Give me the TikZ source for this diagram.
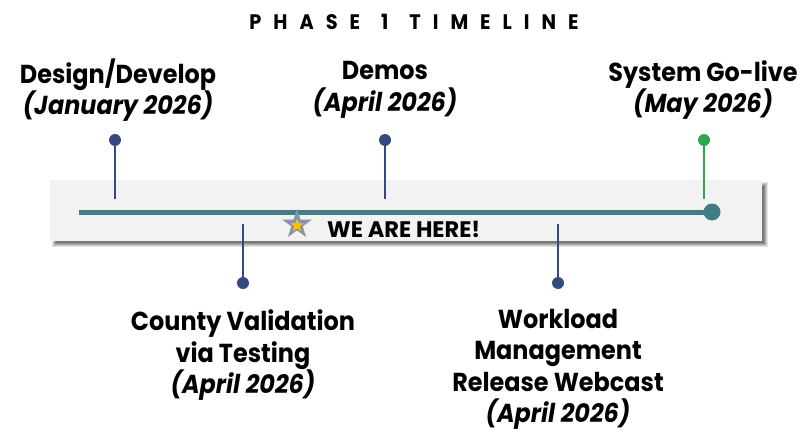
\documentclass[tikz,border=0pt]{standalone}
\usepackage{fontspec}
\setmainfont{Poppins}
\newfontfamily\lblfont[FakeStretch=0.92]{Poppins}
\usetikzlibrary{shapes.geometric}
\definecolor{navy}{HTML}{34497F}
\definecolor{teal}{HTML}{437C84}
\definecolor{golive}{HTML}{2EA84C}
\definecolor{band}{HTML}{F2F2F2}
\definecolor{stargray}{HTML}{8494B0}
\definecolor{staryel}{HTML}{FFC000}
\newcommand\lsp{\hspace{12pt}}
\newcommand\wsp{\hspace{21pt}}
\begin{document}
\begin{tikzpicture}[x=1pt,y=-1pt,
  lbl/.style={font=\lblfont\bfseries\fontsize{26}{31.5}\selectfont, align=center, inner sep=0pt, text=black},
  dotn/.style={circle, fill=navy, inner sep=0pt, minimum size=12pt},
  stem/.style={draw=navy, line width=1.3pt}]
\useasboundingbox (0,0) rectangle (804,431);
% title
\node[inner sep=0pt, font=\lblfont\bfseries\fontsize{21}{24}\selectfont] (title) at (414,22) {P\lsp H\lsp A\lsp S\lsp E\wsp 1\wsp T\lsp I\lsp M\lsp E\lsp L\lsp I\lsp N\lsp E};
% band with soft shadow
\foreach \i/\o in {0/0.10,1/0.12,2/0.14,3/0.16,4/0.18}{
  \fill[black, opacity=\o] (52+\i,182+\i) rectangle (768-\i,247-\i);
}
\fill[band] (50,180) rectangle (762,241);
% stems above
\node[dotn] (d1) at (115,140) {};
\coordinate (d1b) at (115,199);
\draw[stem] (d1) -- (d1b);
\node[dotn] (d2) at (385,140) {};
\coordinate (d2b) at (385,199);
\draw[stem] (d2) -- (d2b);
\node[circle, fill=golive, inner sep=0pt, minimum size=12pt] (d3) at (704,140) {};
\coordinate (d3b) at (704,199);
\draw[draw=golive, line width=1.3pt] (d3) -- (d3b);
% stems below
\node[dotn] (d4) at (243,283) {};
\coordinate (d4t) at (243,224);
\draw[stem] (d4t) -- (d4);
\node[dotn] (d5) at (558,283) {};
\coordinate (d5t) at (558,224);
\draw[stem] (d5t) -- (d5);
% timeline
\node[circle, fill=teal, inner sep=0pt, minimum size=17pt] (endc) at (712,212) {};
\coordinate (start) at (79,212);
\draw[teal, line width=5pt] (start) -- (endc.center);
% star
\node[star, star points=5, star point ratio=2.6, fill=stargray, inner sep=0pt, minimum size=31pt] (star) at (297,224.5) {};
\node[star, star points=5, star point ratio=2.4, fill=staryel, inner sep=0pt, minimum size=14pt] (stari) at (297,225.5) {};
\node[anchor=west, inner sep=0pt, font=\bfseries\fontsize{22.5}{24}\selectfont] (here) at (327,229.5) {WE ARE HERE!};
% labels
\node[lbl] (l1) at (118,90) {Design/Develop\\\itshape (January 2026)};
\node[lbl] (l2) at (385,90) {Demos\\\itshape (April 2026)};
\node[lbl] (l3) at (703,90) {System Go-live\\\itshape (May 2026)};
\node[lbl] (l4) at (243,355.5) {County Validation\\via Testing\\\itshape (April 2026)};
\node[lbl] (l5) at (558,369.5) {Workload\\Management\\Release Webcast\\\itshape (April 2026)};
\end{tikzpicture}
\end{document}
